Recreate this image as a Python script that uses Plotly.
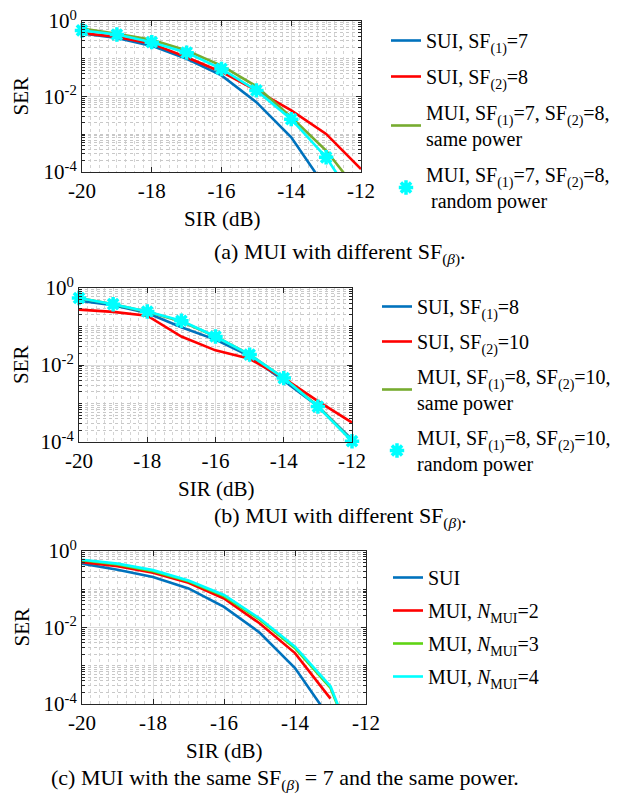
import plotly.graph_objects as go

# ---------------- data ----------------
sir = [-20, -19, -18, -17, -16, -15, -14, -13, -12]

# panel (a)
a_sui_sf7 = [0.468, 0.355, 0.219, 0.100, 0.0363, 0.00708, 8.3e-4, 3.7e-5, None]
a_sui_sf8 = [0.479, 0.380, 0.251, 0.110, 0.0447, 0.0145, 0.00427, 0.00102, 1.2e-4]
a_mui_same = [0.631, 0.457, 0.316, 0.166, 0.066, 0.0186, 0.00282, 3.7e-4, 2.5e-5]
a_mui_rand = [0.562, 0.437, 0.275, 0.145, 0.0537, 0.0145, 0.00251, 2.45e-4, 1.0e-5]

# panel (b)
b_sui_sf8 = [0.468, 0.355, 0.224, 0.0955, 0.0457, 0.0170, 0.00389, 8.5e-4, 1.15e-4]
b_sui_sf10 = [0.275, 0.240, 0.191, 0.055, 0.024, 0.0145, 0.00457, 0.00115, 3.2e-4]
b_mui_same = [0.55, 0.38, 0.24, 0.135, 0.055, 0.0186, 0.00457, 8.5e-4, 1.07e-4]
b_mui_rand = [0.55, 0.38, 0.245, 0.141, 0.055, 0.0186, 0.00457, 8.3e-4, 1.05e-4]

# panel (c)
c_sui = [0.468, 0.324, 0.209, 0.105, 0.0347, 0.0074, 8.7e-4, 4.0e-5, None]
c_mui2 = [0.513, 0.398, 0.269, 0.148, 0.0575, 0.0129, 0.00214, 1.38e-4, None]
c_mui3 = [0.575, 0.447, 0.295, 0.162, 0.066, 0.0162, 0.00288, 2.63e-4, 1.3e-6]
c_mui4 = [0.589, 0.468, 0.316, 0.170, 0.0708, 0.0174, 0.00316, 2.9e-4, 1.3e-6]

x_ticks = [-20, -18, -16, -14, -12]
x_ticklabels = ["-20", "-18", "-16", "-14", "-12"]
y_ticks = [1e-4, 1e-2, 1]
y_ticklabels = ["10<sup>-4</sup>", "10<sup>-2</sup>", "10<sup>0</sup>"]

legend_a = ["SUI, SF<sub>(1)</sub>=7", "SUI, SF<sub>(2)</sub>=8",
            "MUI, SF<sub>(1)</sub>=7, SF<sub>(2)</sub>=8,<br>same power",
            "MUI, SF<sub>(1)</sub>=7, SF<sub>(2)</sub>=8,<br> random power"]
legend_b = ["SUI, SF<sub>(1)</sub>=8", "SUI, SF<sub>(2)</sub>=10",
            "MUI, SF<sub>(1)</sub>=8, SF<sub>(2)</sub>=10,<br>same power",
            "MUI, SF<sub>(1)</sub>=8, SF<sub>(2)</sub>=10,<br>random power"]
legend_c = ["SUI", "MUI, <i>N</i><sub>MUI</sub>=2", "MUI, <i>N</i><sub>MUI</sub>=3",
            "MUI, <i>N</i><sub>MUI</sub>=4"]

captions = ["(a) MUI with different SF<sub>(<i>β</i>)</sub>.",
            "(b) MUI with different SF<sub>(<i>β</i>)</sub>.",
            "(c) MUI with the same SF<sub>(<i>β</i>)</sub> = 7 and the same power."]

# ---------------- style ----------------
W, H = 634, 796
FONT = "Liberation Serif"
BLUE, RED, OLIVE, CYAN, GREEN = "#0072BD", "#FF0000", "#77AC30", "#00FFFF", "#5FD414"
LW = 2.6
TXT = 21

# panel boxes in pixels: (x0, x1, y_top, y_bottom)
boxes = [(82, 361, 21, 172), (79, 352, 288, 442), (82, 366, 551, 704)]

fig = go.Figure()

def dom(b):
    x0, x1, yt, yb = b
    return [x0 / W, x1 / W], [1 - yb / H, 1 - yt / H]

minor_vals = []
for e in range(-4, 0):
    for m in range(1, 10):
        v = m * 10 ** e
        if not (m == 1 and e % 2 == 0):
            minor_vals.append(v)

for i, b in enumerate(boxes):
    xd, yd = dom(b)
    sfx = "" if i == 0 else str(i + 1)
    common = dict(showline=True, linecolor="#262626", linewidth=1, mirror="ticks",
                  ticks="inside", ticklen=5, tickcolor="#262626", automargin=False,
                  tickfont=dict(family=FONT, size=TXT, color="black"),
                  showgrid=True, gridcolor="#DCDCDC", gridwidth=1, zeroline=False)
    fig.update_layout(**{
        "xaxis" + sfx: dict(domain=xd, range=[-20, -12], tickvals=x_ticks,
                            ticktext=x_ticklabels, anchor="y" + sfx,
                            minor=dict(dtick=0.25, tick0=-20, showgrid=True,
                                       gridcolor="#D4D4D4", griddash="dot", ticks=""),
                            **common),
        "yaxis" + sfx: dict(domain=yd, type="log", range=[-4, 0], tickvals=y_ticks,
                            ticktext=y_ticklabels, anchor="x" + sfx,
                            minor=dict(tickmode="array", tickvals=minor_vals, showgrid=True,
                                       gridcolor="#C8C8C8", griddash="dot", ticks="inside",
                                       ticklen=3, tickcolor="#262626"),
                            **common),
    })

def line(xa, ya, y, color, name, leg, group):
    fig.add_trace(go.Scatter(x=sir, y=y, mode="lines", line=dict(color=color, width=LW),
                             name=name, xaxis=xa, yaxis=ya, legend=leg,
                             legendgroup=group, connectgaps=False))

def star(xa, ya, y, color, name, leg, group):
    fig.add_trace(go.Scatter(x=sir, y=y, mode="lines", line=dict(color=color, width=LW),
                             showlegend=False, xaxis=xa, yaxis=ya, legendgroup=group))
    # only markers that fall inside the y range (log axis bottom = 1e-4)
    pts = [(s, v) for s, v in zip(sir, y) if v is not None and v >= 0.99e-4]
    fig.add_trace(go.Scatter(x=[p[0] for p in pts], y=[p[1] for p in pts], mode="markers",
                             name=name, cliponaxis=False,
                             marker=dict(symbol="asterisk-open", size=12, color=color,
                                         line=dict(color=color, width=3.5)),
                             xaxis=xa, yaxis=ya, legend=leg, legendgroup=group))

# panel a
line("x", "y", a_sui_sf7, BLUE, legend_a[0], "legend", "a1")
line("x", "y", a_sui_sf8, RED, legend_a[1], "legend", "a2")
line("x", "y", a_mui_same, OLIVE, legend_a[2], "legend", "a3")
star("x", "y", a_mui_rand, CYAN, legend_a[3], "legend", "a4")
# panel b
line("x2", "y2", b_sui_sf8, BLUE, legend_b[0], "legend2", "b1")
line("x2", "y2", b_sui_sf10, RED, legend_b[1], "legend2", "b2")
line("x2", "y2", b_mui_same, OLIVE, legend_b[2], "legend2", "b3")
star("x2", "y2", b_mui_rand, CYAN, legend_b[3], "legend2", "b4")
# panel c
line("x3", "y3", c_sui, BLUE, legend_c[0], "legend3", "c1")
line("x3", "y3", c_mui2, RED, legend_c[1], "legend3", "c2")
line("x3", "y3", c_mui3, GREEN, legend_c[2], "legend3", "c3")
line("x3", "y3", c_mui4, CYAN, legend_c[3], "legend3", "c4")

leg_font = dict(family=FONT, size=20, color="black")
def legend_cfg(x_px, top_px, gap):
    return dict(x=x_px / W, y=1 - top_px / H, xanchor="left", yanchor="top",
                font=leg_font, bgcolor="rgba(0,0,0,0)", borderwidth=0,
                itemwidth=30, tracegroupgap=gap, traceorder="grouped")

fig.update_layout(legend=legend_cfg(386, 21, 7), legend2=legend_cfg(377, 287, 6),
                  legend3=legend_cfg(388, 558, 4))

ann = []
for i, b in enumerate(boxes):
    x0, x1, yt, yb = b
    ann.append(dict(text="SER", x=21 / W, y=1 - (yt + yb) / 2 / H, xref="paper", yref="paper",
                    xanchor="center", yanchor="middle",
                    textangle=-90, showarrow=False, font=dict(family=FONT, size=TXT, color="black")))
    ann.append(dict(text="SIR (dB)", x=(x0 + x1) / 2 / W, y=1 - (yb + 47) / H, xref="paper",
                    yref="paper", xanchor="center", yanchor="middle",
                    showarrow=False, font=dict(family=FONT, size=TXT, color="black")))
cap_pos = [(340, 253), (340, 517), (285, 779)]
for c, (cx, cy) in zip(captions, cap_pos):
    ann.append(dict(text=c, x=cx / W, y=1 - cy / H, xref="paper", yref="paper",
                    xanchor="center", yanchor="middle",
                    showarrow=False, font=dict(family=FONT, size=22, color="black")))

fig.update_layout(width=W, height=H, margin=dict(l=0, r=0, t=0, b=0),
                  paper_bgcolor="white", plot_bgcolor="white", annotations=ann,
                  showlegend=True)

fig.write_html("out.html", config={"displayModeBar": False},
               post_script="document.body.style.margin='0px';")
